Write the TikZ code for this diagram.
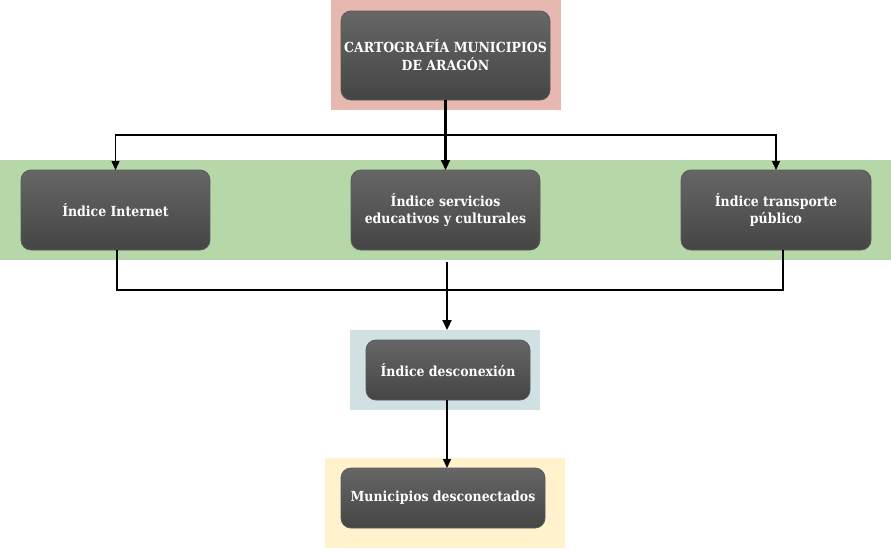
\documentclass[tikz,border=0pt]{standalone}
\usepackage{fontspec}
\setmainfont{DejaVu Serif Condensed}
\usetikzlibrary{arrows.meta}
\definecolor{bgpink}{HTML}{E6B8AF}
\definecolor{bggreen}{HTML}{B6D7A8}
\definecolor{bgblue}{HTML}{D0E0E3}
\definecolor{bgyellow}{HTML}{FFF2CC}
\definecolor{boxtop}{HTML}{666666}
\definecolor{boxbot}{HTML}{454545}
\definecolor{boxline}{HTML}{5A5A5A}
\tikzset{
  bgrect/.style={draw=none, inner sep=0pt, outer sep=0pt},
  darkbox/.style={rounded corners=10pt, draw=boxline, line width=0.8pt,
    top color=boxtop, bottom color=boxbot, text=white,
    font=\fontsize{13.9}{17.7}\selectfont\bfseries, align=center,
    inner sep=0pt, outer sep=0pt},
  conn/.style={line width=1.4pt, -{Triangle[length=9pt,width=8pt]}},
  connthick/.style={line width=2.2pt, -{Triangle[length=10pt,width=9pt]}},
  plainline/.style={line width=1.4pt}
}
\begin{document}
\begin{tikzpicture}[x=1pt,y=-1pt]
\useasboundingbox (0,0) rectangle (891,549);
% backgrounds
\node[bgrect, fill=bgpink, minimum width=230pt, minimum height=110pt] (bgtop) at (445.5,55) {};
\node[bgrect, fill=bggreen, minimum width=891pt, minimum height=100pt] (bgmid) at (445.5,210) {};
\node[bgrect, fill=bgblue, minimum width=190pt, minimum height=80pt] (bgdes) at (445,370) {};
\node[bgrect, fill=bgyellow, minimum width=240pt, minimum height=90pt] (bgmun) at (445,503) {};
% boxes
\node[darkbox, minimum width=209pt, minimum height=89pt] (top) at (445.5,55.5) {CARTOGRAFÍA MUNICIPIOS\\DE ARAGÓN};
\node[darkbox, minimum width=189pt, minimum height=80pt] (internet) at (115.5,210) {Índice Internet};
\node[darkbox, minimum width=189pt, minimum height=80pt] (servicios) at (445.5,210) {Índice servicios\\educativos y culturales};
\node[darkbox, minimum width=190pt, minimum height=80pt] (transporte) at (776,210) {Índice transporte\\público};
\node[darkbox, minimum width=164pt, minimum height=60pt] (desc) at (448,370) {Índice desconexión};
\node[darkbox, minimum width=204pt, minimum height=60pt] (mun) at (443,498) {Municipios desconectados};
% connector coordinates
\coordinate (split) at (445.5,135);
\coordinate (lfoot) at (117,250);
\coordinate (rfoot) at (783,250);
\coordinate (lcorner) at (117,290);
\coordinate (rcorner) at (783,290);
\coordinate (mstart) at (447,262);
\coordinate (mend) at (447,330);
% connectors
\draw[connthick] (top.south) -- (servicios.north);
\draw[conn] (split) -| (internet.north);
\draw[conn] (split) -| (transporte.north);
\draw[plainline] (lfoot) -- (lcorner) -- (rcorner) -- (rfoot);
\draw[connthick] (mstart) -- (mend);
\draw[conn] (desc.south -| mstart) -- (mun.north -| mstart);
\end{tikzpicture}
\end{document}
